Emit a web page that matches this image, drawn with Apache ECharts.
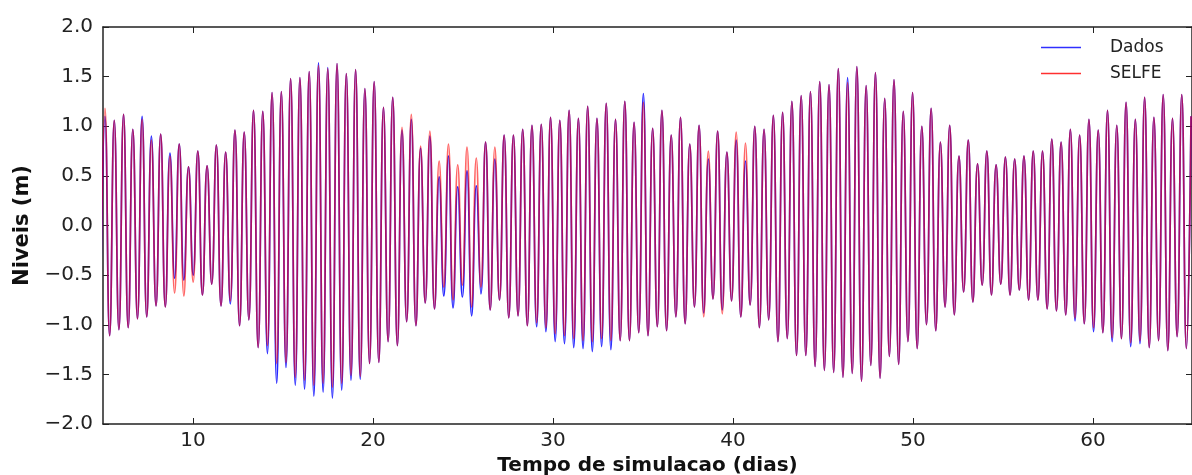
<!DOCTYPE html>
<html>
<head>
<meta charset="utf-8">
<script src="https://cdn.jsdelivr.net/npm/echarts@6/dist/echarts.min.js"></script>
<style>
  html, body { margin: 0; padding: 0; background: #fff; }
  #chart { width: 1192px; height: 475px; }
</style>
</head>
<body>
<div id="chart"></div>
<script>
// tide extremes: highs[i] at firstHigh + i*tideStep,
// lows[i] half a step before highs[i]
const firstHigh = 5.11
const tideStep = 0.5157

const dadosHigh = [
  1.10, 1.06, 1.12, 0.97, 1.10, 0.90, 0.92, 0.73, 0.82, 0.59,
  0.75, 0.60, 0.81, 0.74, 0.96, 0.94, 1.16, 1.15, 1.34, 1.35,
  1.48, 1.49, 1.55, 1.64, 1.59, 1.63, 1.53, 1.57, 1.38, 1.45,
  1.19, 1.29, 0.96, 1.07, 0.78, 0.90, 0.49, 0.70, 0.39, 0.55,
  0.40, 0.84, 0.67, 0.91, 0.91, 0.97, 1.01, 1.02, 1.09, 1.06,
  1.16, 1.08, 1.20, 1.08, 1.23, 1.07, 1.25, 1.04, 1.33, 0.98,
  1.16, 0.91, 1.09, 0.82, 1.01, 0.67, 0.95, 0.74, 0.86, 0.65,
  1.00, 0.97, 1.11, 1.14, 1.25, 1.31, 1.35, 1.45, 1.42, 1.58,
  1.49, 1.60, 1.41, 1.54, 1.28, 1.47, 1.15, 1.34, 1.00, 1.18,
  0.84, 1.01, 0.70, 0.86, 0.62, 0.75, 0.61, 0.69, 0.67, 0.70,
  0.75, 0.75, 0.87, 0.84, 0.97, 0.91, 1.07, 0.96, 1.16, 1.01,
  1.24, 1.07, 1.29, 1.09, 1.32, 1.08, 1.32, 1.10
]
const dadosLow = [
  -0.95, -1.11, -1.05, -1.03, -0.94, -0.92, -0.81, -0.82, -0.53, -0.55,
  -0.50, -0.70, -0.59, -0.81, -0.79, -1.01, -0.95, -1.23, -1.29, -1.59,
  -1.43, -1.61, -1.65, -1.72, -1.68, -1.74, -1.66, -1.56, -1.55, -1.39,
  -1.38, -1.17, -1.21, -0.97, -1.01, -0.78, -0.84, -0.71, -0.83, -0.72,
  -0.91, -0.69, -0.85, -0.75, -0.93, -0.91, -1.01, -1.02, -1.07, -1.17,
  -1.19, -1.23, -1.24, -1.27, -1.22, -1.25, -1.16, -1.16, -1.08, -1.11,
  -1.02, -1.06, -0.92, -0.99, -0.82, -0.88, -0.74, -0.85, -0.76, -0.92,
  -0.80, -1.03, -0.95, -1.17, -1.14, -1.31, -1.31, -1.42, -1.46, -1.48,
  -1.53, -1.49, -1.57, -1.41, -1.54, -1.32, -1.40, -1.17, -1.24, -1.00,
  -1.06, -0.82, -0.90, -0.67, -0.77, -0.60, -0.70, -0.59, -0.70, -0.65,
  -0.75, -0.75, -0.84, -0.86, -0.90, -0.96, -0.99, -1.07, -1.08, -1.17,
  -1.14, -1.22, -1.19, -1.23, -1.16, -1.26, -1.12, -1.24
]
const selfeHigh = [
  1.18, 1.06, 1.12, 0.97, 1.07, 0.86, 0.92, 0.70, 0.82, 0.59,
  0.75, 0.60, 0.81, 0.74, 0.96, 0.94, 1.16, 1.15, 1.34, 1.35,
  1.48, 1.49, 1.55, 1.61, 1.58, 1.63, 1.53, 1.57, 1.38, 1.45,
  1.19, 1.29, 0.99, 1.12, 0.80, 0.95, 0.65, 0.82, 0.61, 0.79,
  0.68, 0.84, 0.79, 0.91, 0.91, 0.97, 1.01, 1.02, 1.09, 1.06,
  1.16, 1.08, 1.20, 1.08, 1.23, 1.07, 1.25, 1.04, 1.24, 0.98,
  1.16, 0.91, 1.09, 0.82, 1.01, 0.75, 0.95, 0.74, 0.94, 0.83,
  1.00, 0.97, 1.11, 1.14, 1.25, 1.31, 1.35, 1.45, 1.42, 1.58,
  1.44, 1.60, 1.41, 1.54, 1.28, 1.47, 1.15, 1.34, 1.00, 1.18,
  0.84, 1.01, 0.70, 0.86, 0.62, 0.75, 0.61, 0.69, 0.67, 0.70,
  0.75, 0.75, 0.87, 0.84, 0.97, 0.91, 1.07, 0.96, 1.16, 1.01,
  1.24, 1.07, 1.29, 1.09, 1.32, 1.08, 1.32, 1.10
]
const selfeLow = [
  -0.95, -1.11, -1.05, -1.03, -0.94, -0.92, -0.81, -0.82, -0.68, -0.71,
  -0.57, -0.70, -0.59, -0.81, -0.76, -1.01, -0.95, -1.23, -1.21, -1.39,
  -1.38, -1.53, -1.56, -1.61, -1.59, -1.63, -1.59, -1.51, -1.52, -1.39,
  -1.38, -1.17, -1.21, -0.97, -1.01, -0.78, -0.84, -0.62, -0.75, -0.60,
  -0.82, -0.62, -0.85, -0.75, -0.93, -0.91, -1.01, -0.98, -1.03, -1.09,
  -1.11, -1.14, -1.16, -1.17, -1.14, -1.16, -1.16, -1.16, -1.08, -1.11,
  -1.02, -1.06, -0.92, -0.99, -0.82, -0.92, -0.74, -0.89, -0.76, -0.92,
  -0.80, -1.03, -0.95, -1.17, -1.14, -1.31, -1.31, -1.42, -1.46, -1.48,
  -1.53, -1.49, -1.57, -1.41, -1.54, -1.32, -1.40, -1.17, -1.24, -1.00,
  -1.06, -0.82, -0.90, -0.67, -0.77, -0.60, -0.70, -0.59, -0.70, -0.65,
  -0.75, -0.75, -0.84, -0.86, -0.90, -0.93, -0.99, -1.03, -1.08, -1.13,
  -1.14, -1.18, -1.16, -1.23, -1.16, -1.26, -1.12, -1.24
]

const xTicks = [10, 20, 30, 40, 50, 60]
const yTicks = [-2.0, -1.5, -1.0, -0.5, 0.0, 0.5, 1.0, 1.5, 2.0]

// low, high, low, high ... as [day, level]
const toLine = (highs, lows) => {
  const pts = []
  highs.forEach((h, i) => {
    pts.push([firstHigh + (i - 0.5) * tideStep, lows[i]])
    pts.push([firstHigh + i * tideStep, h])
  })
  return pts
}

const font = 'DejaVu Sans'
const axisColor = '#222'
const tickStyle = { show: true, inside: true, length: 6, lineStyle: { color: axisColor, width: 1 } }
const fmtY = (v) => v.toFixed(1).replace('-', '\u2212')

const chart = echarts.init(document.getElementById('chart'))
const option = {
  animation: false,
  backgroundColor: '#fff',
  legend: {
    orient: 'vertical',
    left: 1036,
    top: 34,
    itemWidth: 40,
    itemHeight: 1.5,
    itemGap: 9,
    icon: 'rect',
    data: ['Dados', 'SELFE'],
    textStyle: { fontFamily: font, fontSize: 17, color: '#222', padding: [0, 0, 0, 24] }
  },
  grid: { left: 103, right: 0, top: 27, bottom: 51, outerBoundsMode: 'none' },
  xAxis: [
    {
      type: 'value',
      min: 5,
      max: 65.5,
      name: 'Tempo de simulacao (dias)',
      nameLocation: 'middle',
      nameGap: 32,
      nameTextStyle: { fontFamily: font, fontSize: 20, fontWeight: 'bold', color: '#111' },
      axisLine: { show: true, onZero: false, lineStyle: { color: axisColor, width: 1.5 } },
      axisTick: { ...tickStyle, customValues: xTicks },
      axisLabel: { customValues: xTicks, fontFamily: font, fontSize: 20, color: '#222', margin: 7 },
      splitLine: { show: false }
    },
    {
      type: 'value',
      position: 'top',
      min: 5,
      max: 65.5,
      axisLine: { show: true, onZero: false, lineStyle: { color: axisColor, width: 1.5 } },
      axisTick: { ...tickStyle, customValues: xTicks },
      axisLabel: { show: false },
      splitLine: { show: false }
    }
  ],
  yAxis: [
    {
      type: 'value',
      min: -2,
      max: 2,
      name: 'Niveis (m)',
      nameLocation: 'middle',
      nameGap: 68,
      nameTextStyle: { fontFamily: font, fontSize: 21, fontWeight: 'bold', color: '#111' },
      axisLine: { show: true, onZero: false, lineStyle: { color: axisColor, width: 1.5 } },
      axisTick: { ...tickStyle, customValues: yTicks },
      axisLabel: { customValues: yTicks, formatter: fmtY, fontFamily: font, fontSize: 20, color: '#222', margin: 10 },
      splitLine: { show: false }
    },
    {
      type: 'value',
      position: 'right',
      min: -2,
      max: 2,
      axisLine: { show: true, onZero: false, lineStyle: { color: axisColor, width: 1.5 } },
      axisTick: { ...tickStyle, customValues: yTicks },
      axisLabel: { show: false },
      splitLine: { show: false }
    }
  ],
  series: [
    {
      name: 'Dados',
      type: 'line',
      data: toLine(dadosHigh, dadosLow),
      smooth: 0.5,
      showSymbol: false,
      color: '#3030ff',
      lineStyle: { width: 1.7, color: '#0000ff', opacity: 0.85 }
    },
    {
      name: 'SELFE',
      type: 'line',
      data: toLine(selfeHigh, selfeLow),
      smooth: 0.5,
      showSymbol: false,
      color: '#ff3030',
      lineStyle: { width: 1.7, color: '#ff0000', opacity: 0.6 }
    }
  ]
}
chart.setOption(option)
</script>
</body>
</html>
